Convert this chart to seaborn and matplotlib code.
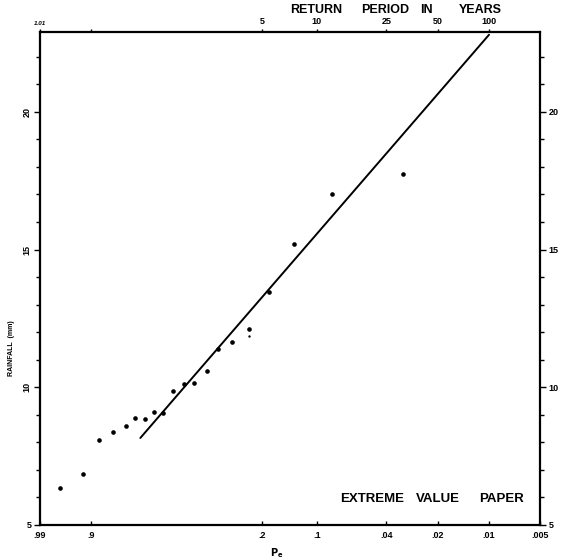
import numpy as np
import pandas as pd
import matplotlib
matplotlib.use("Agg")
import matplotlib.pyplot as plt
import seaborn as sns

# Annual maximum rainfall (mm) against exceedance probability Pe
pe = [0.970, 0.923, 0.872, 0.819, 0.760, 0.715, 0.669, 0.622, 0.576, 0.530,
      0.476, 0.432, 0.374, 0.334, 0.284, 0.233, 0.183, 0.134, 0.082, 0.032]
rainfall = [6.33, 6.85, 8.07, 8.36, 8.60, 8.87, 8.85, 9.10, 9.08, 9.85,
            10.13, 10.14, 10.59, 11.40, 11.64, 12.13, 13.46, 15.19, 17.01, 17.74]

# secondary small mark
extra_pe = [0.233]
extra_rain = [11.88]

# fitted straight line on extreme value paper
fit_pe = [0.69, 0.01]
fit_rain = [8.16, 22.80]

# probability axis (bottom) and return period axis (top)
pe_ticks = [0.99, 0.9, 0.2, 0.1, 0.04, 0.02, 0.01, 0.005]
pe_labels = [".99", ".9", ".2", ".1", ".04", ".02", ".01", ".005"]
rp_ticks = [0.99, 0.9, 0.2, 0.1, 0.04, 0.02, 0.01]
rp_labels = ["1.01", "", "5", "10", "25", "50", "100"]

y_ticks = [5, 10, 15, 20]
y_labels = ["5", "10", "15", "20"]

sns.set_theme(style="white")
plt.rcParams["font.family"] = ["Liberation Sans", "DejaVu Sans"]
plt.rcParams["font.weight"] = "bold"


def gumbel(p):
    # increasing in Pe; the axis is inverted so large Pe sits on the left
    p = np.clip(np.asarray(p, dtype=float), 1e-9, 1 - 1e-9)
    return np.log(-np.log1p(-p))


def gumbel_inv(y):
    y = np.asarray(y, dtype=float)
    return -np.expm1(-np.exp(y))


df = pd.DataFrame({"pe": pe, "rain": rainfall})
df_fit = pd.DataFrame({"pe": fit_pe, "rain": fit_rain})
df_extra = pd.DataFrame({"pe": extra_pe, "rain": extra_rain})

fig = plt.figure(figsize=(5.61, 5.60), dpi=100)
ax = fig.add_axes([40 / 561, 1 - 525 / 560, 500 / 561, (525 - 32) / 560])

sns.scatterplot(data=df, x="pe", y="rain", ax=ax, color="black", s=11,
                linewidth=0, zorder=3)
sns.scatterplot(data=df_extra, x="pe", y="rain", ax=ax, color="black", s=3,
                linewidth=0, zorder=3)
sns.lineplot(data=df_fit, x="pe", y="rain", ax=ax, color="black", lw=1.4,
             sort=False, estimator=None)

ax.set_xscale("function", functions=(gumbel, gumbel_inv))
ax.set_xlim(0.99, 0.005)
ax.set_ylim(5, 22.9)

ax.set_xticks(pe_ticks)
ax.set_xticklabels(pe_labels)
ax.xaxis.set_minor_locator(matplotlib.ticker.NullLocator())
ax.set_yticks(y_ticks)
ax.set_yticklabels(y_labels)
ax.set_yticks(np.arange(5, 23, 1), minor=True)
ax.set_xlabel("")
ax.set_ylabel("")

for s in ax.spines.values():
    s.set_color("black")
    s.set_linewidth(1.6)

ax.tick_params(axis="x", which="major", direction="in", length=3, width=1,
               labelsize=6.5, pad=4, colors="black", bottom=True, top=False)
ax.tick_params(axis="y", which="major", direction="out", length=4, width=1,
               labelsize=6.5, pad=2, colors="black", left=True, right=True,
               labelleft=True, labelright=True)
ax.tick_params(axis="y", which="minor", direction="out", length=3, width=1,
               left=True, right=True, colors="black")
for tick in ax.yaxis.get_major_ticks():
    if tick.label1.get_text() != "5":
        tick.label1.set_rotation(90)
        tick.label1.set_va("center")

# return period scale along the top edge
ax2 = ax.twiny()
ax2.set_xscale("function", functions=(gumbel, gumbel_inv))
ax2.set_xlim(0.99, 0.005)
ax2.set_xticks(rp_ticks)
ax2.set_xticklabels(rp_labels)
ax2.xaxis.set_minor_locator(matplotlib.ticker.NullLocator())
ax2.tick_params(axis="x", direction="out", length=2, width=1, labelsize=6.5,
                pad=2, colors="black")
ax2.get_xticklabels()[0].set_fontsize(4.5)
ax2.get_xticklabels()[0].set_fontstyle("italic")
for s in ax2.spines.values():
    s.set_visible(False)
ax2.grid(False)

# titles and annotations
for word, xc in [("RETURN", 316), ("PERIOD", 385), ("IN", 426), ("YEARS", 480)]:
    fig.text(xc / 561, 1 - 10 / 560, word, ha="center", va="center",
             fontsize=9, fontweight="bold", color="black")

for word, xc in [("EXTREME", 372), ("VALUE", 438), ("PAPER", 502)]:
    fig.text(xc / 561, 1 - 499 / 560, word, ha="center", va="center",
             fontsize=9.5, fontweight="bold", color="black")

fig.text(12 / 561, 1 - 348 / 560, "RAINFALL  (mm)", rotation=90, ha="center",
         va="center", fontsize=5, fontweight="bold", color="black")
fig.text(277 / 561, 1 - 553 / 560, r"$\mathbf{P_e}$", ha="center",
         va="center", fontsize=7, color="black")

fig.savefig("out.png", dpi=100, facecolor="white")
